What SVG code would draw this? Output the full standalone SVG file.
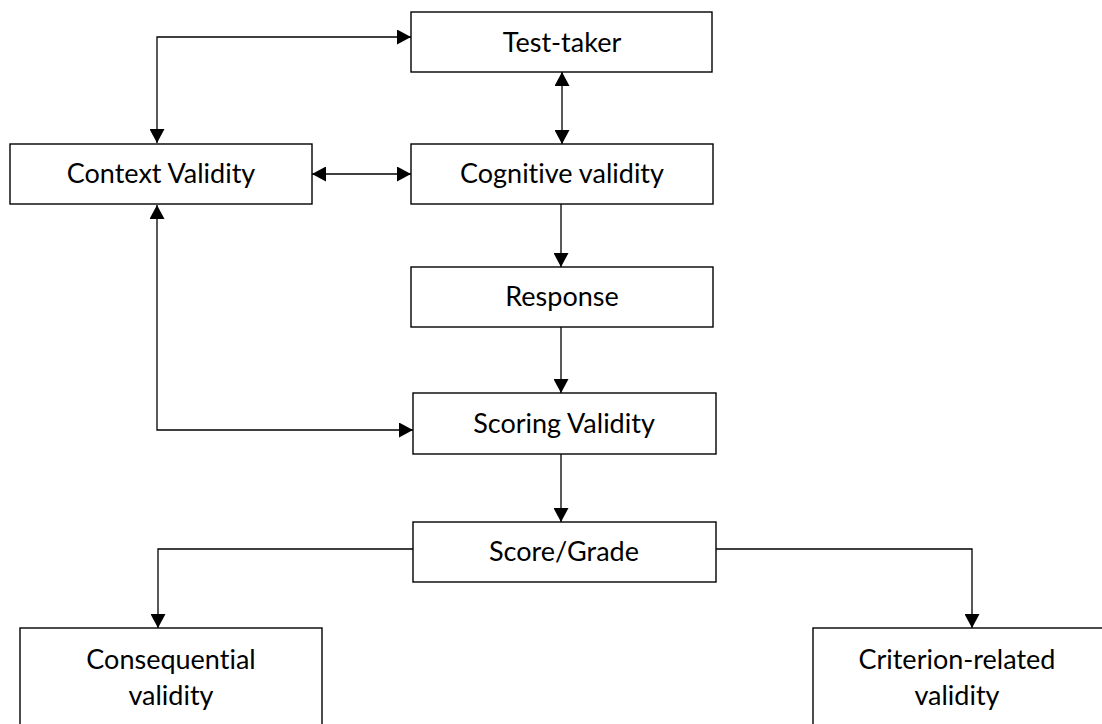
<svg xmlns="http://www.w3.org/2000/svg" width="1102" height="724" viewBox="0 0 1102 724">
  <style>
    .box { fill: #ffffff; stroke: #000000; stroke-width: 1.4; }
    .label { font-family: Lato, "Liberation Sans", sans-serif; font-size: 27px; fill: #000000; text-anchor: middle; font-variant-ligatures: none; }
    .wire { fill: none; stroke: #000000; stroke-width: 1.3; }
  </style>
  <defs>
    <marker id="head" viewBox="0 0 14 15" markerWidth="14" markerHeight="15" refX="14" refY="7.5" orient="auto-start-reverse" markerUnits="userSpaceOnUse">
      <path d="M0,0 L14,7.5 L0,15 Z" fill="#000000"/>
    </marker>
  </defs>

  <g id="connectors">
    <!-- test-taker <-> context validity -->
    <path class="wire" d="M411,37 H157 V143" marker-start="url(#head)" marker-end="url(#head)"/>
    <!-- test-taker <-> cognitive validity -->
    <path class="wire" d="M562,72 V144" marker-start="url(#head)" marker-end="url(#head)"/>
    <!-- context validity <-> cognitive validity -->
    <path class="wire" d="M312,174 H411" marker-start="url(#head)" marker-end="url(#head)"/>
    <!-- cognitive validity -> response -->
    <path class="wire" d="M561,204 V267" marker-end="url(#head)"/>
    <!-- response -> scoring validity -->
    <path class="wire" d="M561,327 V393" marker-end="url(#head)"/>
    <!-- context validity <-> scoring validity -->
    <path class="wire" d="M157,205 V430 H413" marker-start="url(#head)" marker-end="url(#head)"/>
    <!-- scoring validity -> score/grade -->
    <path class="wire" d="M561,454 V522" marker-end="url(#head)"/>
    <!-- score/grade -> consequential validity -->
    <path class="wire" d="M413,549 H158 V628" marker-end="url(#head)"/>
    <!-- score/grade -> criterion-related validity -->
    <path class="wire" d="M716,549 H972 V628" marker-end="url(#head)"/>
  </g>

  <g id="test-taker">
    <rect class="box" x="411" y="12" width="301" height="60"/>
    <text class="label" x="562" y="52">Test-taker</text>
  </g>
  <g id="context-validity">
    <rect class="box" x="10" y="144" width="302" height="60"/>
    <text class="label" x="161" y="183">Context Validity</text>
  </g>
  <g id="cognitive-validity">
    <rect class="box" x="411" y="144" width="302" height="60"/>
    <text class="label" x="562" y="183">Cognitive validity</text>
  </g>
  <g id="response">
    <rect class="box" x="411" y="267" width="302" height="60"/>
    <text class="label" x="562" y="306">Response</text>
  </g>
  <g id="scoring-validity">
    <rect class="box" x="413" y="393" width="303" height="61"/>
    <text class="label" x="564" y="433">Scoring Validity</text>
  </g>
  <g id="score-grade">
    <rect class="box" x="413" y="522" width="303" height="60"/>
    <text class="label" x="564" y="561">Score/Grade</text>
  </g>
  <g id="consequential-validity">
    <rect class="box" x="20" y="628" width="302" height="110"/>
    <text class="label" x="171" y="669">Consequential</text>
    <text class="label" x="171" y="705">validity</text>
  </g>
  <g id="criterion-related-validity">
    <rect class="box" x="813" y="628" width="302" height="110"/>
    <text class="label" x="957" y="669">Criterion-related</text>
    <text class="label" x="957" y="705">validity</text>
  </g>
</svg>
